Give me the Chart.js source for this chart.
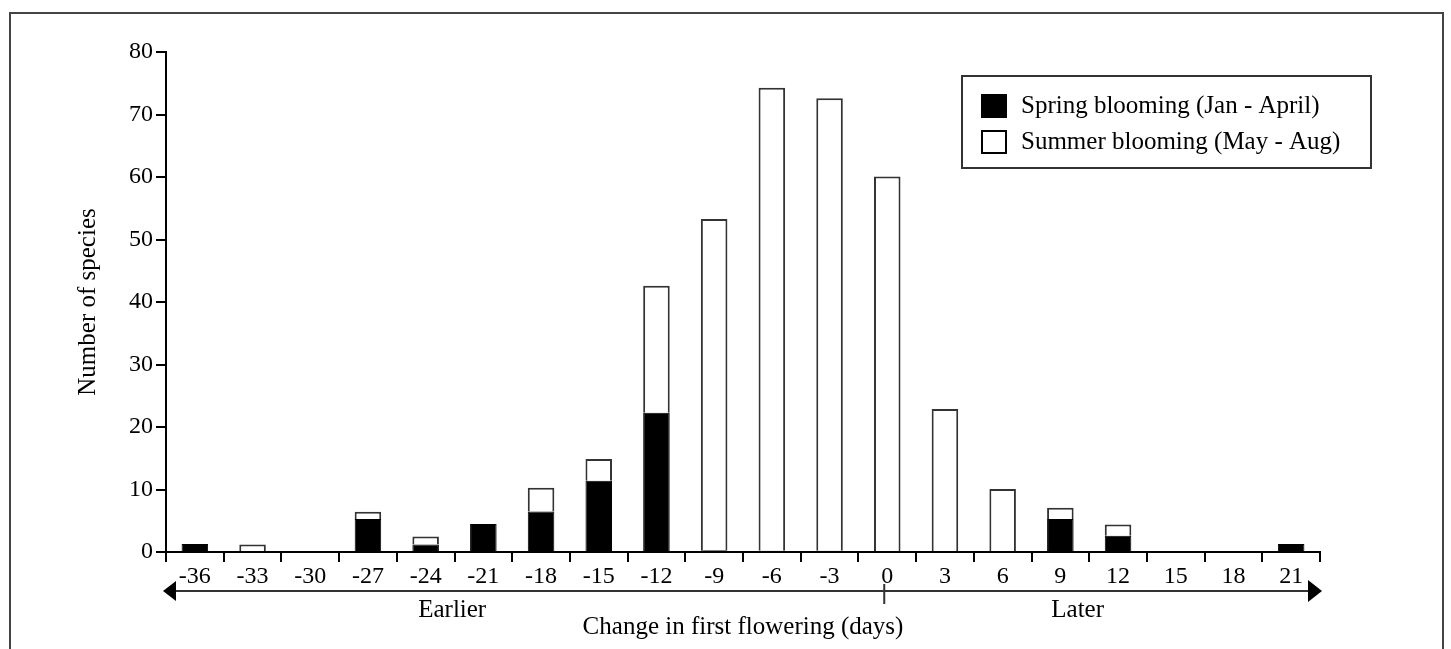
<!DOCTYPE html>
<html>
<head>
<meta charset="utf-8">
<script src="https://cdn.jsdelivr.net/npm/chart.js@4"></script>
<style>
    body { margin: 0; background: #fff; }
    #wrap { position: relative; width: 1451px; height: 649px; overflow: hidden; }
    #frame { position: absolute; left: 9px; top: 12px; width: 1435px; height: 700px;
             border: 2px solid #444; box-sizing: border-box; pointer-events: none; }
</style>
</head>
<body>
<div id="wrap">
    <div id="frame"></div>
    <canvas id="flowerChart"></canvas>
</div>
<script>
// change in first flowering (days)
const categories = ['-36', '-33', '-30', '-27', '-24', '-21', '-18', '-15', '-12', '-9',
                    '-6', '-3', '0', '3', '6', '9', '12', '15', '18', '21'];
// number of species, spring blooming (bottom of stack)
const springValues = [1.3, null, null, 5.3, 1.2, 4.5, 6.5, 11.4, 22.3, 0.3,
                      0.2, 0.2, null, null, null, 5.3, 2.6, null, null, 1.3];
// number of species, summer blooming (stacked on top)
const summerValues = [null, 1.2, null, 1.15, 1.3, null, 3.8, 3.5, 20.3, 53.0,
                      74.1, 72.4, 60.1, 22.9, 10.1, 1.8, 1.8, null, null, null];
const yTicks = [0, 10, 20, 30, 40, 50, 60, 70, 80];

const FONT = 'Liberation Serif';
const TEXT_SIZE = 25;
const TICK_SIZE = 24;

// legend box, arrows and Earlier/Later notes
const extrasPlugin = {
    id: 'extras',
    afterDraw(chart) {
        const ctx = chart.ctx;
        const x = chart.scales.x;
        const area = chart.chartArea;
        ctx.save();

        // arrow line under the axis
        const ay = area.bottom + 39;
        const left = x.left - 3;
        const right = x.right + 2;
        ctx.strokeStyle = '#333';
        ctx.lineWidth = 2;
        ctx.beginPath();
        ctx.moveTo(left + 10, ay);
        ctx.lineTo(right - 10, ay);
        ctx.stroke();
        ctx.fillStyle = '#000';
        ctx.beginPath();
        ctx.moveTo(left, ay);
        ctx.lineTo(left + 13, ay - 10);
        ctx.lineTo(left + 13, ay + 10);
        ctx.closePath();
        ctx.fill();
        ctx.beginPath();
        ctx.moveTo(right, ay);
        ctx.lineTo(right - 14, ay - 11);
        ctx.lineTo(right - 14, ay + 11);
        ctx.closePath();
        ctx.fill();
        // mark at zero
        const zx = x.getPixelForValue(categories.indexOf('0')) - 3;
        ctx.beginPath();
        ctx.moveTo(zx, ay - 7);
        ctx.lineTo(zx, ay + 13);
        ctx.stroke();

        ctx.font = TEXT_SIZE + 'px "' + FONT + '"';
        ctx.textAlign = 'center';
        ctx.textBaseline = 'middle';
        ctx.fillText('Earlier', x.left + (x.right - x.left) * 0.248, ay + 19);
        ctx.fillText('Later', x.left + (x.right - x.left) * 0.79, ay + 19);

        // legend
        const lx = 962, ly = 76, lw = 409, lh = 92;
        ctx.strokeStyle = '#333';
        ctx.lineWidth = 2;
        ctx.strokeRect(lx, ly, lw, lh);
        ctx.textAlign = 'left';
        chart.data.datasets.forEach(function(ds, i) {
            const cy = ly + 30 + i * 36;
            ctx.fillStyle = ds.backgroundColor;
            ctx.fillRect(lx + 19, cy - 12, 26, 24);
            ctx.strokeStyle = '#000';
            ctx.lineWidth = 2;
            ctx.strokeRect(lx + 20, cy - 11, 24, 22);
            ctx.fillStyle = '#000';
            ctx.fillText(ds.label, lx + 59, cy);
        });
        ctx.restore();
    }
};

const ctx = document.getElementById('flowerChart').getContext('2d');
new Chart(ctx, {
    type: 'bar',
    data: {
        labels: categories,
        datasets: [
            {
                label: 'Spring blooming (Jan - April)',
                data: springValues,
                backgroundColor: '#000',
                borderColor: '#000',
                borderWidth: 1,
                barPercentage: 0.92,
                categoryPercentage: 0.5
            },
            {
                label: 'Summer blooming (May - Aug)',
                data: summerValues,
                backgroundColor: '#fff',
                borderColor: '#333',
                borderWidth: 2,
                barPercentage: 0.92,
                categoryPercentage: 0.5
            }
        ]
    },
    options: {
        responsive: true,
        maintainAspectRatio: false,
        animation: false,
        layout: { padding: { top: 52, right: 131, left: 0, bottom: 0 } },
        plugins: {
            legend: { display: false },
            tooltip: { enabled: false }
        },
        scales: {
            x: {
                stacked: true,
                grid: {
                    offset: true,
                    drawOnChartArea: false,
                    drawTicks: true,
                    tickLength: 10,
                    color: '#000',
                    lineWidth: 2
                },
                border: { color: '#000', width: 2 },
                ticks: {
                    color: '#000',
                    padding: 0,
                    maxRotation: 0,
                    autoSkip: false,
                    font: { family: FONT, size: TICK_SIZE }
                },
                title: {
                    display: true,
                    text: 'Change in first flowering (days)',
                    color: '#000',
                    padding: { top: 0, bottom: 7 },
                    font: { family: FONT, size: TEXT_SIZE }
                },
                afterFit: function(scale) { scale.height = 97; }
            },
            y: {
                stacked: true,
                min: 0,
                max: 80,
                afterBuildTicks: function(scale) {
                    scale.ticks = yTicks.map(function(v) { return { value: v }; });
                },
                grid: {
                    drawOnChartArea: false,
                    drawTicks: true,
                    tickLength: 10,
                    color: '#000',
                    lineWidth: 2
                },
                border: { color: '#000', width: 2 },
                ticks: {
                    color: '#000',
                    padding: 3,
                    font: { family: FONT, size: TICK_SIZE }
                },
                title: {
                    display: true,
                    text: 'Number of species',
                    color: '#000',
                    padding: { top: 73, bottom: 0 },
                    font: { family: FONT, size: TEXT_SIZE }
                },
                afterFit: function(scale) { scale.width = 166; }
            }
        }
    },
    plugins: [extrasPlugin]
});
</script>
</body>
</html>
